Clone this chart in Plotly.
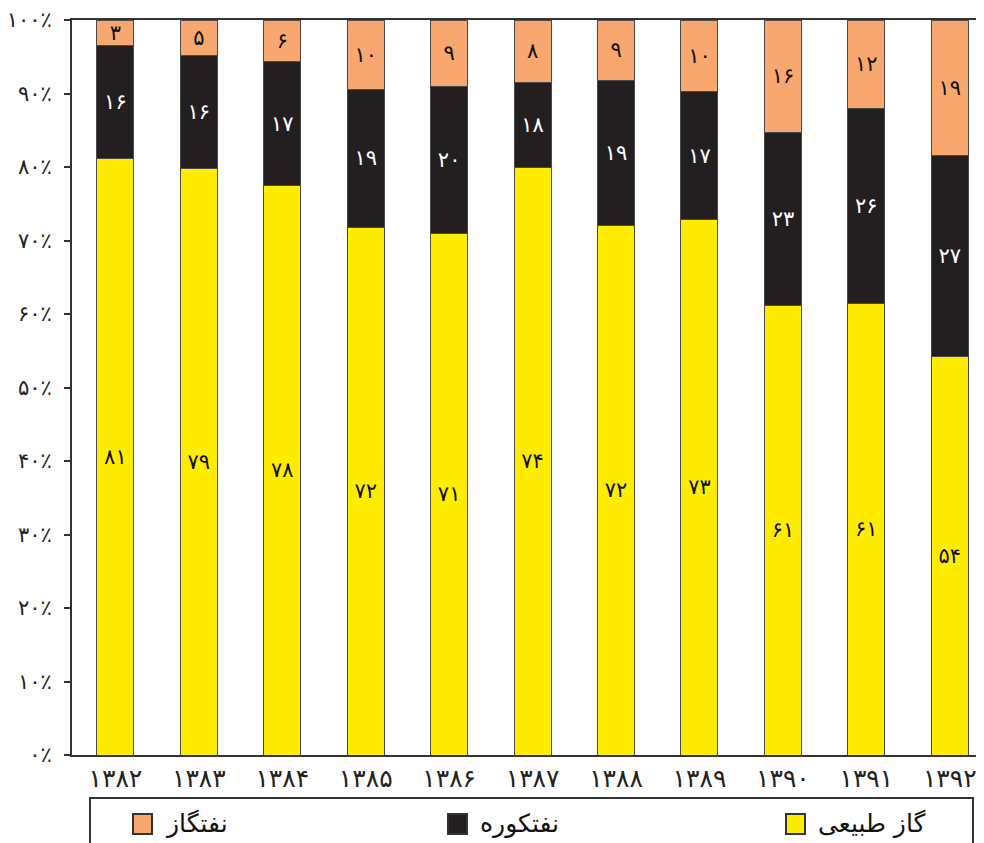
import plotly.graph_objects as go

years = ["۱۳۸۲", "۱۳۸۳", "۱۳۸۴", "۱۳۸۵", "۱۳۸۶", "۱۳۸۷", "۱۳۸۸", "۱۳۸۹", "۱۳۹۰", "۱۳۹۱", "۱۳۹۲"]

# bar heights (percent of each stack)
gas_values = [81.2, 79.8, 77.5, 71.8, 71.0, 80.0, 72.1, 72.8, 61.2, 61.4, 54.2]
kerosene_values = [15.3, 15.4, 16.8, 18.8, 20.0, 11.5, 19.7, 17.5, 23.5, 26.5, 27.3]
gasoil_values = [3.5, 4.8, 5.7, 9.4, 9.0, 8.5, 8.2, 9.7, 15.3, 12.1, 18.5]

# numbers printed on the bars
gas_labels = ["۸۱", "۷۹", "۷۸", "۷۲", "۷۱", "۷۴", "۷۲", "۷۳", "۶۱", "۶۱", "۵۴"]
kerosene_labels = ["۱۶", "۱۶", "۱۷", "۱۹", "۲۰", "۱۸", "۱۹", "۱۷", "۲۳", "۲۶", "۲۷"]
gasoil_labels = ["۳", "۵", "۶", "۱۰", "۹", "۸", "۹", "۱۰", "۱۶", "۱۲", "۱۹"]

series_names = ["گاز طبیعی", "نفتکوره", "نفتگاز"]
colors = ["#FFEC00", "#231F20", "#F8A86E"]
text_colors = ["#111111", "#FFFFFF", "#111111"]

y_tick_vals = [0, 10, 20, 30, 40, 50, 60, 70, 80, 90, 100]
y_tick_text = ["۰٪", "۱۰٪", "۲۰٪", "۳۰٪", "۴۰٪", "۵۰٪", "۶۰٪", "۷۰٪", "۸۰٪", "۹۰٪", "۱۰۰٪"]

FONT = "DejaVu Sans"

fig = go.Figure()
for vals, labels, name, col, tcol in zip(
    [gas_values, kerosene_values, gasoil_values],
    [gas_labels, kerosene_labels, gasoil_labels],
    series_names, colors, text_colors,
):
    fig.add_trace(go.Bar(
        x=list(range(len(years))), y=vals, name=name,
        marker=dict(color=col, line=dict(color="#4a4a4a", width=1)),
        text=labels, textposition="inside", insidetextanchor="middle",
        constraintext="none", textangle=0,
        textfont=dict(family=FONT, size=21, color=tcol),
        showlegend=False, hoverinfo="skip",
    ))

# page body has an 8px margin: figure is offset by 8px in the screenshot
OFF = 8
W, H = 984 - OFF, 843 - OFF
PL, PT, PB = 72, 20, 755   # plot area edges in screenshot pixels
ml, mr, mt, mb = PL - OFF, 0, PT - OFF, H - (PB - OFF)
PW = (984 - PL)
PH = (PB - PT)

def px(x):
    return (x - PL) / PW

def py(y):
    return (PB - y) / PH

fig.update_layout(
    width=W, height=H,
    margin=dict(l=ml, r=mr, t=mt, b=mb, autoexpand=False),
    barmode="stack", bargap=0.556,
    plot_bgcolor="white", paper_bgcolor="white",
    font=dict(family=FONT, color="#222222"),
    uniformtext=dict(minsize=21, mode="show"),
    xaxis=dict(
        range=[-0.52, 10.41], tickvals=list(range(len(years))), ticktext=years,
        showline=True, linecolor="#333333", linewidth=2, mirror=True,
        ticks="", showgrid=False, zeroline=False, automargin=False,
        tickfont=dict(family=FONT, size=25, color="#222222"),
    ),
    yaxis=dict(
        range=[0, 100], tickvals=y_tick_vals, ticktext=y_tick_text,
        showline=True, linecolor="#333333", linewidth=2,
        ticks="outside", ticklen=6, tickcolor="#333333", tickwidth=1.5,
        showgrid=False, zeroline=False, ticklabelstandoff=8, automargin=False,
        tickfont=dict(family=FONT, size=21, color="#222222"),
    ),
)

# legend frame (manual, right-to-left ordering as in the reference)
fig.add_shape(type="rect", xref="paper", yref="paper",
              x0=px(90), x1=px(973), y0=py(880), y1=py(798),
              line=dict(color="#333333", width=2), fillcolor="white", layer="above")

legend_items = [
    (series_names[2], colors[2], 133),
    (series_names[1], colors[1], 448),
    (series_names[0], colors[0], 786),
]
for name, col, x0 in legend_items:
    fig.add_shape(type="rect", xref="paper", yref="paper",
                  x0=px(x0), x1=px(x0 + 19), y0=py(834), y1=py(814),
                  line=dict(color="#333333", width=2), fillcolor=col, layer="above")
    fig.add_annotation(xref="paper", yref="paper", x=px(x0 + 30), y=py(823),
                       text=name, showarrow=False, xanchor="left", yanchor="middle",
                       font=dict(family=FONT, size=25, color="#111111"))

fig.write_html("out.html")
